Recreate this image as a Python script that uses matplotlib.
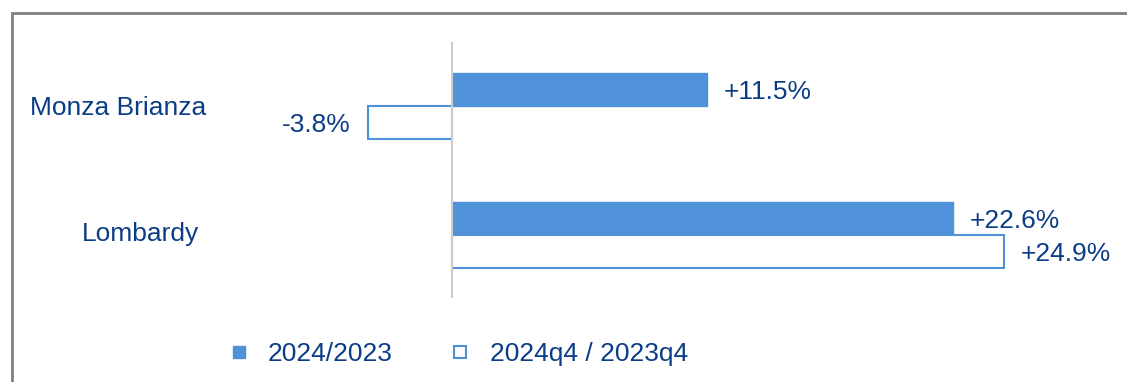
import matplotlib
matplotlib.use("Agg")
import matplotlib.pyplot as plt
from matplotlib.lines import Line2D
from matplotlib.patches import Rectangle

plt.rcParams["font.family"] = ["Liberation Sans", "DejaVu Sans"]

# data
regions = ["Monza Brianza", "Lombardy"]
growth_year = [11.5, 22.6]      # 2024/2023
growth_q4 = [-3.8, 24.9]        # 2024q4 / 2023q4
series_names = ["2024/2023", "2024q4 / 2023q4"]

blue = "#4f92d9"
txt = "#0b3d86"
fs = 19

W, H = 1127, 382
fig = plt.figure(figsize=(W / 100, H / 100), dpi=100)

# grey frame around the chart (runs off the right and bottom edges)
fig.add_artist(Rectangle((12 / W, -0.1), 1.2, 1 - 13 / H + 0.1,
                         transform=fig.transFigure, fill=False,
                         edgecolor="#808080", linewidth=2))

# axes in pixel placement: zero line at x=452, 22.15 px per %
left, right, top, bottom = 330, 1110, 42, 298
ax = fig.add_axes([left / W, 1 - bottom / H, (right - left) / W, (bottom - top) / H])
ppu = 22.15
ax.set_xlim((left - 452) / ppu, (right - 452) / ppu)
ax.set_ylim(1 + (bottom - 235) / 129, -(106 - top) / 129)
ax.axis("off")

h = 33 / 129
dy = 2.5 / 129
ypos = list(range(len(regions)))
ax.barh([y - h / 2 for y in ypos], growth_year, height=h, color=blue, edgecolor=blue, linewidth=1)
ax.barh([y + h / 2 for y in ypos], growth_q4, height=h, color="white", edgecolor=blue, linewidth=1.5)
ax.axvline(0, color="#cccccc", linewidth=1.5)

off = 17 / ppu
for y, v in zip(ypos, growth_year):
    ax.text(v + off if v >= 0 else v - off, y - h / 2 + dy, "%+.1f%%" % v, color=txt, fontsize=fs,
            ha="left" if v >= 0 else "right", va="center")
for y, v in zip(ypos, growth_q4):
    ax.text(v + off if v >= 0 else v - off, y + h / 2 + dy, "%+.1f%%" % v, color=txt, fontsize=fs,
            ha="left" if v >= 0 else "right", va="center")

# category labels
fig.text(118 / W, 1 - 108 / H, regions[0], color=txt, fontsize=fs, ha="center", va="center")
fig.text(140 / W, 1 - 234 / H, regions[1], color=txt, fontsize=fs, ha="center", va="center")

handles = [Line2D([], [], linestyle="none", marker="s", markersize=9, markerfacecolor=blue, markeredgecolor=blue),
           Line2D([], [], linestyle="none", marker="s", markersize=9, markerfacecolor="white",
                  markeredgecolor=blue, markeredgewidth=1.5)]
leg = fig.legend(handles, series_names, loc="center left", bbox_to_anchor=(228 / W, 1 - 354 / H),
                 ncol=2, frameon=False, fontsize=fs, handlelength=0.8, handletextpad=0.72,
                 columnspacing=2.14, borderpad=0, borderaxespad=0)
for t in leg.get_texts():
    t.set_color(txt)

fig.savefig("out.png", dpi=100)
